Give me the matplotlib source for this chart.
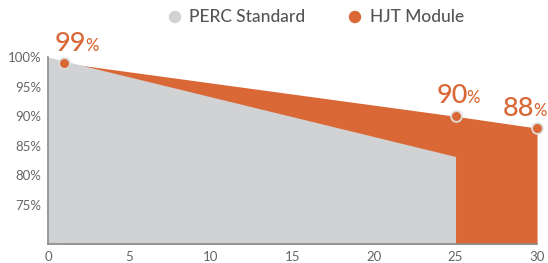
import numpy as np
import matplotlib
matplotlib.use('Agg')
import matplotlib.pyplot as plt

# ---------------- DATA ----------------
perc_years = [0, 25]
perc_values = [100, 83.2]

hjt_years = [1, 25, 30]
hjt_values = [99, 90, 88]
hjt_labels = ['99', '90', '88']

x_ticks = [0, 5, 10, 15, 20, 25, 30]
y_ticks = [75, 80, 85, 90, 95, 100]

orange = '#D96836'
grey = '#D1D2D4'
text_grey = '#666666'

plt.rcParams['font.family'] = ['Lato', 'DejaVu Sans']

# ---------------- FIGURE ----------------
fig = plt.figure(figsize=(5.48, 2.63), dpi=100)
ax = fig.add_axes([0.0876, 0.072, 0.8924, 0.711])
ymin = 68.4

ax.fill_between(hjt_years, hjt_values, ymin, color=orange, lw=0, zorder=1)
ax.fill_between(perc_years, perc_values, ymin, color=grey, lw=0, zorder=2)

ax.scatter(hjt_years, hjt_values, s=60, color=orange, edgecolor='#DDDDDD',
           linewidth=1.3, zorder=5, clip_on=False)

# offsets in pixels: (end of the number relative to marker, baseline above marker)
offsets = [(22, 12), (12, 13), (-3, 12)]
for x, y, lab, (dx, dy) in zip(hjt_years, hjt_values, hjt_labels, offsets):
    ax.annotate(lab, (x, y), xytext=(dx * 0.72, dy * 0.72), textcoords='offset points',
                ha='right', va='baseline', fontsize=19.5, fontweight='medium',
                color=orange, annotation_clip=False)
    ax.annotate('%', (x, y), xytext=(dx * 0.72 - 0.8, dy * 0.72), textcoords='offset points',
                ha='left', va='baseline', fontsize=12, fontweight='medium',
                color=orange, annotation_clip=False)

ax.set_xlim(0, 30)
ax.set_ylim(ymin, 100)
ax.set_xticks(x_ticks)
ax.set_yticks(y_ticks)
ax.set_yticklabels([f'{v}%' for v in y_ticks])
ax.tick_params(length=0, labelsize=9.5, colors=text_grey, pad=5)
for side in ['top', 'right']:
    ax.spines[side].set_visible(False)
for side in ['left', 'bottom']:
    ax.spines[side].set_color('#8A8A8A')
    ax.spines[side].set_linewidth(1.2)
    ax.spines[side].set_zorder(3)

# ---------------- LEGEND ----------------
lax = fig.add_axes([0, 0, 1, 1], facecolor='none')
lax.set_xlim(0, 548)
lax.set_ylim(263, 0)
lax.axis('off')
lax.scatter([175, 355], [17, 17], s=80, color=[grey, orange], lw=0)
lax.text(189, 17, 'PERC Standard', va='center', ha='left', fontsize=12.5,
         fontweight='medium', color='#555555')
lax.text(370, 17, 'HJT Module', va='center', ha='left', fontsize=12.5,
         fontweight='medium', color='#555555')

fig.savefig('out.png', dpi=100)
